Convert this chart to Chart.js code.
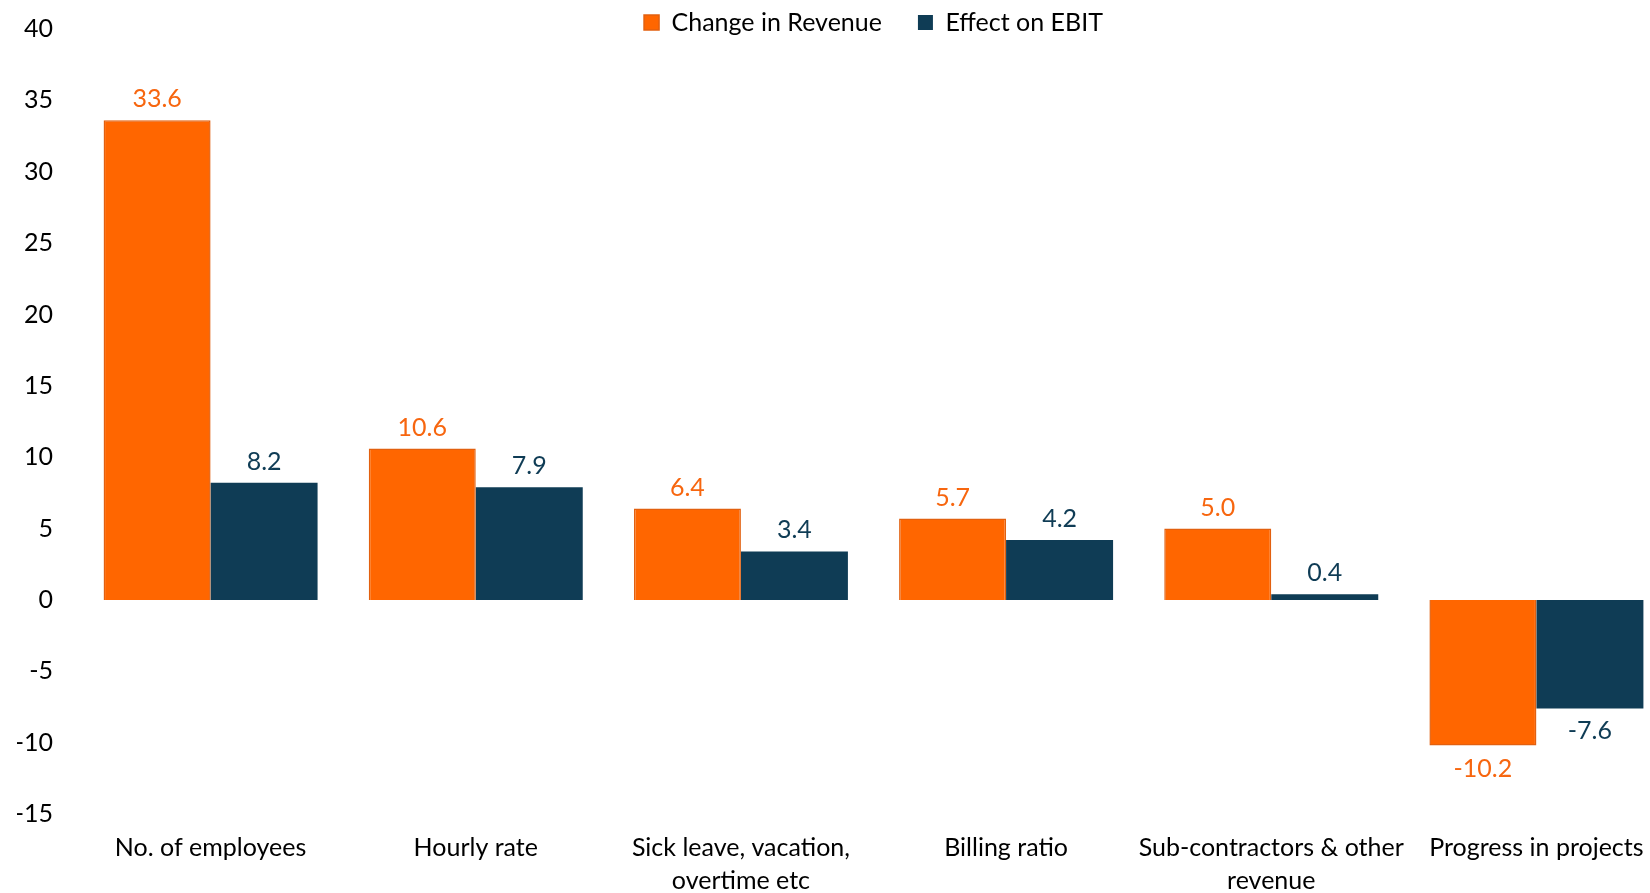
<!DOCTYPE html>
<html>
<head>
<meta charset="utf-8">
<script src="https://cdn.jsdelivr.net/npm/chart.js@4/dist/chart.umd.min.js"></script>
<style>
  html, body { margin: 0; padding: 0; background: #ffffff; overflow: hidden; }
  #wrap { position: absolute; left: 0; top: 0; width: 1670px; height: 893px; }
</style>
</head>
<body>
<div id="wrap"><canvas id="c"></canvas></div>
<script>
const categories = [
  "No. of employees",
  "Hourly rate",
  ["Sick leave, vacation,", "overtime etc"],
  "Billing ratio",
  ["Sub-contractors & other", "revenue"],
  "Progress in projects"
];
const seriesNames = ["Change in Revenue", "Effect on EBIT"];
const changeInRevenue = [33.6, 10.6, 6.4, 5.7, 5.0, -10.2];
const effectOnEBIT = [8.2, 7.9, 3.4, 4.2, 0.4, -7.6];
const yTicks = { min: -15, max: 40, step: 5 };

const ORANGE = "#FF6600";
const ORANGE_BORDER = "#E2600F";
const NAVY = "#0F3C55";
const FONT = "Lato, 'Open Sans', sans-serif";
const FS = 25;

const valueLabels = {
  id: "valueLabels",
  afterDatasetsDraw(chart) {
    const ctx = chart.ctx;
    ctx.save();
    ctx.font = FS + "px " + FONT;
    ctx.textAlign = "center";
    ctx.textBaseline = "middle";
    chart.data.datasets.forEach((ds, i) => {
      const meta = chart.getDatasetMeta(i);
      ctx.fillStyle = ds.labelColor;
      meta.data.forEach((bar, j) => {
        const v = ds.data[j];
        const y = v >= 0 ? bar.y - 21 : bar.y + 23;
        ctx.fillText(v.toFixed(1), bar.x, y);
      });
    });
    ctx.restore();
  }
};

// Move the legend row up to sit at the very top of the canvas.
const legendShift = {
  id: "legendShift",
  afterLayout(chart) {
    const lg = chart.legend;
    if (!lg) return;
    const newTop = -26;
    lg.top = newTop;
    lg.height = 80;
    lg.bottom = newTop + 80;
  }
};

new Chart(document.getElementById("c"), {
  type: "bar",
  data: {
    labels: categories,
    datasets: [
      { label: seriesNames[0], data: changeInRevenue, backgroundColor: ORANGE,
        borderColor: ORANGE_BORDER, borderWidth: 1.5, labelColor: "#F7660F" },
      { label: seriesNames[1], data: effectOnEBIT, backgroundColor: NAVY,
        borderColor: NAVY, borderWidth: 0, labelColor: NAVY }
    ]
  },
  options: {
    responsive: true,
    maintainAspectRatio: false,
    animation: false,
    layout: { padding: { top: 0, left: 17, right: 1, bottom: 0 } },
    datasets: { bar: { categoryPercentage: 0.807, barPercentage: 1.0 } },
    plugins: {
      tooltip: { enabled: false },
      legend: {
        position: "top",
        fullSize: false,
        maxHeight: 29,
        labels: {
          boxWidth: 15, boxHeight: 15, padding: 36,
          color: "#000000",
          font: { family: FONT, size: FS }
        }
      }
    },
    scales: {
      x: {
        grid: { display: false, drawTicks: false },
        border: { display: false },
        ticks: { color: "#000000", padding: 17, maxRotation: 0, autoSkip: false,
                 font: { family: FONT, size: FS, lineHeight: 1.32 } },
        afterFit(scale) { scale.height = 79; scale.paddingLeft = 0; scale.paddingRight = 0; }
      },
      y: {
        min: yTicks.min, max: yTicks.max,
        grid: { display: false, drawTicks: false },
        border: { display: false },
        ticks: { stepSize: yTicks.step, color: "#000000", padding: 25,
                 font: { family: FONT, size: FS } },
        afterFit(scale) { scale.width = 61; scale.paddingTop = 0; scale.paddingBottom = 0; }
      }
    }
  },
  plugins: [valueLabels, legendShift]
});
</script>
</body>
</html>
